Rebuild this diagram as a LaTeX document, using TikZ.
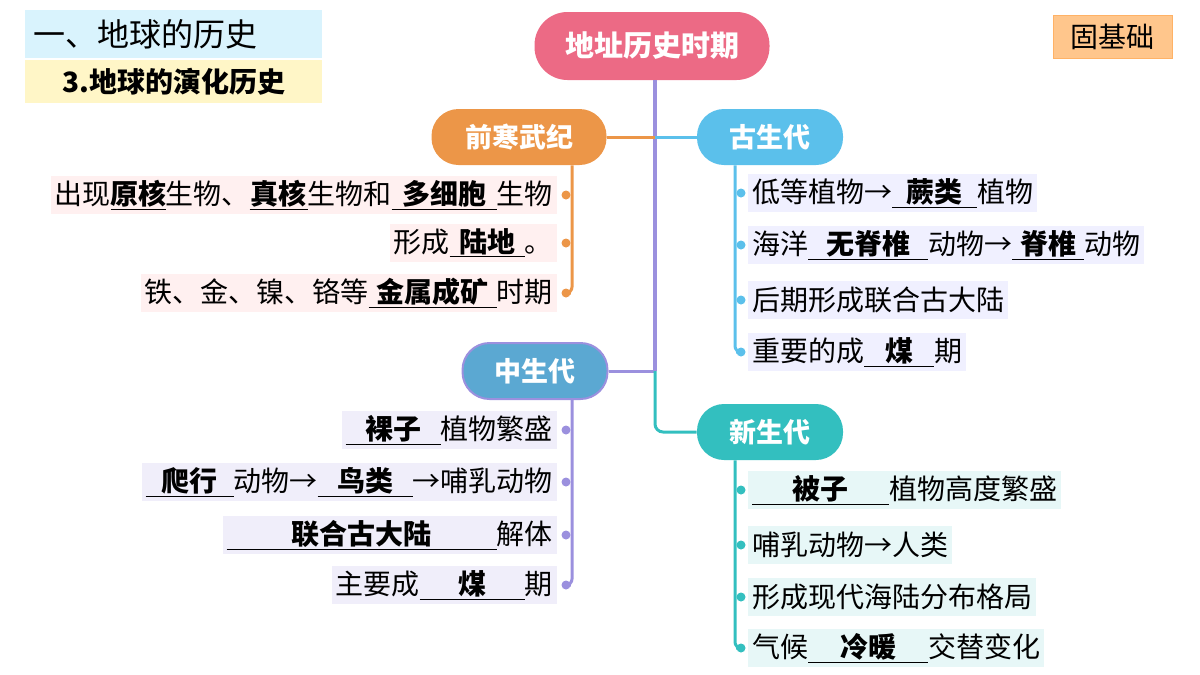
\documentclass[tikz,border=0pt]{standalone}
\usepackage{fontspec}
\setmainfont{Noto Sans CJK SC}
\usepackage[dvipsnames]{xcolor}
\definecolor{rootc}{HTML}{EC6A85}
\definecolor{orc}{HTML}{EC9648}
\definecolor{bluc}{HTML}{5BC0EB}
\definecolor{midc}{HTML}{5BA8D2}
\definecolor{purc}{HTML}{9B90DE}
\definecolor{tealc}{HTML}{33BFBF}
\newcommand{\blank}[2]{\underline{\makebox[#1]{\bfseries #2}}}
\begin{document}
\begin{tikzpicture}[x=1pt,y=-1pt,thick,
    era node/.style={rounded corners=27pt,minimum height=56pt,text=white,font=\fontsize{27}{30}\selectfont\bfseries,inner xsep=14pt},
    item/.style={inner sep=4pt,minimum height=38pt,font=\fontsize{28}{30}\selectfont},
    dot/.style={circle,fill,inner sep=0pt,minimum size=9pt}]
    \useasboundingbox (0,0) rectangle (1200,675);

    % headings
    \node[fill=cyan!15,minimum width=297pt,minimum height=48pt,anchor=north west,font=\fontsize{32}{35}\selectfont,text width=280pt] (head) at (25,10) {一、地球的历史};
    \node[fill=Goldenrod!25,minimum width=297pt,minimum height=43pt,anchor=north west,font=\fontsize{28}{30}\selectfont\bfseries] (sub) at (25,60) {3.地球的演化历史};
    \node[fill=orange!45,draw=orange!60,minimum width=119pt,minimum height=43pt,anchor=north west,font=\fontsize{28}{30}\selectfont] (tag) at (1053,15) {固基础};

    % eras
    \node[era node,fill=rootc,minimum width=235pt,minimum height=68pt,rounded corners=33pt,font=\fontsize{29}{32}\selectfont\bfseries] (root) at (652,46) {地址历史时期};
    \node[era node,fill=orc,minimum width=175pt] (pre) at (519,137) {前寒武纪};
    \node[era node,fill=bluc,minimum width=146pt] (pal) at (770,137) {古生代};
    \node[era node,fill=midc,draw=purc,line width=2pt,minimum width=145pt] (mes) at (535,371) {中生代};
    \node[era node,fill=tealc,minimum width=146pt] (cen) at (770,432) {新生代};

    \coordinate (t1) at (655,137);
    \coordinate (t2) at (655,371);
    \draw[purc,line width=4pt] (root.south -| t1) -- (t2);
    \draw[orc,line width=3pt] (t1) -- (pre);
    \draw[bluc,line width=3pt] (t1) -- (pal);
    \draw[purc,line width=3pt] (t2) -- (mes);
    \draw[tealc,line width=3pt,rounded corners=8pt] (t2) |- (cen);

    % 前寒武纪
    \foreach \i/\y in {1/195,2/243,3/293} \node[dot,orc] (pd\i) at (566,\y) {};
    \draw[orc,line width=3pt,rounded corners=6pt] (pre.south -| 572,0) |- (pd3);
    \node[item,fill=red!6,anchor=east] (p1) at (557,195) {出现\blank{55pt}{原核}生物、\blank{58pt}{真核}生物和\blank{105pt}{多细胞}生物};
    \node[item,fill=red!6,anchor=east] (p2) at (557,243) {形成\blank{75pt}{陆地}。};
    \node[item,fill=red!6,anchor=east] (p3) at (557,293) {铁、金、镍、铬等\blank{128pt}{金属成矿}时期};

    % 古生代
    \foreach \i/\y in {1/193,2/245,3/300,4/352} \node[dot,bluc] (gd\i) at (741,\y) {};
    \draw[bluc,line width=3pt,rounded corners=6pt] (pal.south -| 735,0) |- (gd4);
    \node[item,fill=blue!6,anchor=west] (g1) at (748,193) {低等植物→\blank{85pt}{蕨类}植物};
    \node[item,fill=blue!6,anchor=west] (g2) at (748,245) {海洋\blank{120pt}{无脊椎}动物→\blank{72pt}{脊椎}动物};
    \node[item,fill=blue!6,anchor=west] (g3) at (748,300) {后期形成联合古大陆};
    \node[item,fill=blue!6,anchor=west] (g4) at (748,352) {重要的成\blank{70pt}{煤}期};

    % 中生代
    \foreach \i/\y in {1/430,2/482,3/535,4/585} \node[dot,purc] (md\i) at (566,\y) {};
    \draw[purc,line width=3pt,rounded corners=6pt] (mes.south -| 572,0) |- (md4);
    \node[item,fill=purc!15,anchor=east] (m1) at (557,430) {\blank{95pt}{裸子}植物繁盛};
    \node[item,fill=purc!15,anchor=east] (m2) at (557,482) {\blank{88pt}{爬行}动物→\blank{95pt}{鸟类}→哺乳动物};
    \node[item,fill=purc!15,anchor=east] (m3) at (557,535) {\blank{270pt}{联合古大陆}解体};
    \node[item,fill=purc!15,anchor=east] (m4) at (557,585) {主要成\blank{105pt}{煤}期};

    % 新生代
    \foreach \i/\y in {1/490,2/545,3/597,4/648} \node[dot,tealc] (nd\i) at (741,\y) {};
    \draw[tealc,line width=3pt,rounded corners=6pt] (cen.south -| 735,0) |- (nd4);
    \node[item,fill=tealc!12,anchor=west] (n1) at (748,490) {\blank{137pt}{被子}植物高度繁盛};
    \node[item,fill=tealc!12,anchor=west] (n2) at (748,545) {哺乳动物→人类};
    \node[item,fill=tealc!12,anchor=west] (n3) at (748,597) {形成现代海陆分布格局};
    \node[item,fill=tealc!12,anchor=west] (n4) at (748,648) {气候\blank{120pt}{冷暖}交替变化};
\end{tikzpicture}
\end{document}
